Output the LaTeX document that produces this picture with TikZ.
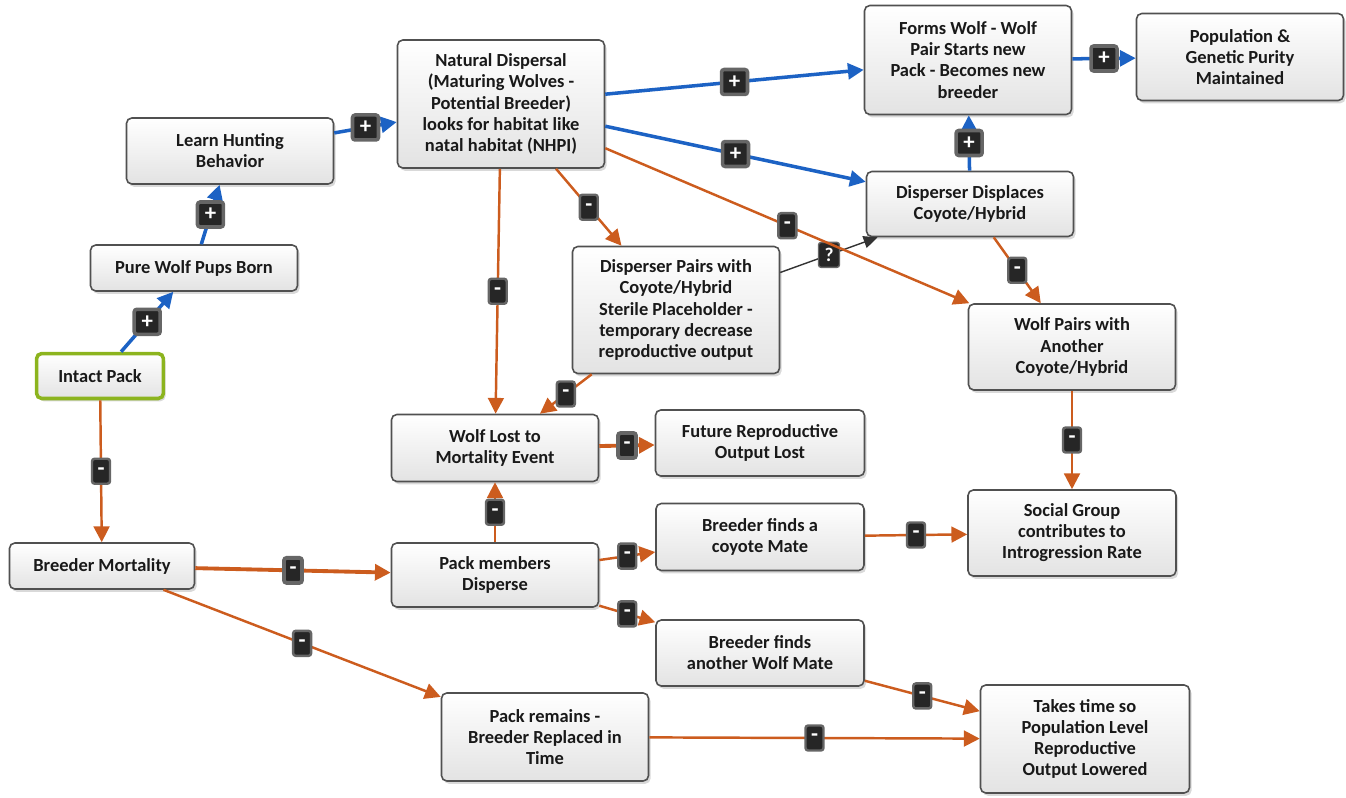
\documentclass[tikz,border=0pt]{standalone}
\usepackage{fontspec}
\setmainfont{Carlito}
\usetikzlibrary{arrows.meta}
\usetikzlibrary{shadows}

\definecolor{plusblue}{RGB}{28,98,196}
\definecolor{minusorange}{RGB}{204,92,30}
\definecolor{packgreen}{RGB}{140,180,30}
\definecolor{boxline}{RGB}{80,80,80}

\tikzset{
  box/.style={draw=boxline, line width=0.9pt, rounded corners=3pt,
    top color=white, bottom color=black!11,
    drop shadow={opacity=0.3, shadow xshift=1.2pt, shadow yshift=-1.6pt},
    align=center, font=\fontsize{10.5}{12}\selectfont\bfseries, text=black!90,
    minimum width=4.14cm, inner sep=2pt},
  startbox/.style={box, draw=packgreen, line width=2pt},
  plusedge/.style={plusblue, line width=2pt, -{Triangle[length=9pt,width=9pt]}},
  minusedge/.style={minusorange, line width=1.4pt, -{Triangle[length=9pt,width=9pt]}},
  askedge/.style={black!80, line width=0.8pt, -{Triangle[length=8pt,width=7pt]}},
  signbox/.style={fill=black!85, draw=black!60, rounded corners=1.5pt, text=white,
    font=\fontsize{13}{13}\selectfont\bfseries, inner sep=0pt, minimum height=0.5cm},
  plusmark/.style={signbox, minimum width=0.52cm},
  minusmark/.style={signbox, minimum width=0.36cm},
  askmark/.style={signbox, minimum width=0.42cm, font=\fontsize{11}{11}\selectfont\bfseries}
}

\begin{document}
\begin{tikzpicture}[x=0.02cm, y=-0.02cm]
        \useasboundingbox (0,0) rectangle (1346,798);
        %%%BOXES%%%
        \node[startbox, minimum width=2.54cm, minimum height=0.9cm] (intact) at (100,376) {Intact Pack};
        \node[box, minimum height=0.92cm] (pups) at (194,268) {Pure Wolf Pups Born};
        \node[box, minimum height=1.32cm] (hunt) at (230,151) {Learn Hunting\\Behavior};
        \node[box, minimum height=2.56cm] (disp) at (501,104) {Natural Dispersal\\(Maturing Wolves -\\Potential Breeder)\\looks for habitat like\\natal habitat (NHPI)};
        \node[box, minimum height=2.18cm] (forms) at (968,60) {Forms Wolf - Wolf\\Pair Starts new\\Pack - Becomes new\\breeder};
        \node[box, minimum height=1.74cm] (popul) at (1240,57) {Population \&\\Genetic Purity\\Maintained};
        \node[box, minimum height=1.3cm] (displace) at (970,204) {Disperser Displaces\\Coyote/Hybrid};
        \node[box, minimum height=2.54cm] (pairs) at (676,310) {Disperser Pairs with\\Coyote/Hybrid\\Sterile Placeholder -\\temporary decrease\\reproductive output};
        \node[box, minimum height=1.72cm] (wpair) at (1072,347) {Wolf Pairs with\\Another\\Coyote/Hybrid};
        %next
        \node[box, minimum height=1.34cm] (lost) at (495,448) {Wolf Lost to\\Mortality Event};
        \node[box, minimum width=4.18cm, minimum height=1.32cm] (future) at (760,443) {Future Reproductive\\Output Lost};
        \node[box, minimum width=4.16cm, minimum height=1.72cm] (social) at (1072,533) {Social Group\\contributes to\\Introgression Rate};
        \node[box, minimum width=3.7cm, minimum height=0.92cm] (bmort) at (102,566) {Breeder Mortality};
        \node[box, minimum height=1.28cm] (pmem) at (495,575) {Pack members\\Disperse};
        \node[box, minimum width=4.16cm, minimum height=1.34cm] (bcoy) at (760,537) {Breeder finds a\\coyote Mate};
        \node[box, minimum width=4.16cm, minimum height=1.32cm] (bwolf) at (760,653) {Breeder finds\\another Wolf Mate};
        \node[box, minimum height=1.76cm] (premain) at (545,737) {Pack remains -\\Breeder Replaced in\\Time};
        \node[box, minimum width=4.18cm, minimum height=2.16cm] (takes) at (1085,739) {Takes time so\\Population Level\\Reproductive\\Output Lowered};
        %%%LINKS%%%
        \draw[plusedge] (intact)--node[plusmark]{+}(pups);
        \draw[plusedge] (pups)--node[plusmark]{+}(hunt);
        \draw[plusedge] (hunt)--node[plusmark]{+}(disp);
        \draw[plusedge] (disp)--node[plusmark]{+}(forms);
        \draw[plusedge] (disp)--node[plusmark]{+}(displace);
        \draw[plusedge] (displace)--node[plusmark]{+}(forms);
        \draw[plusedge] (forms)--node[plusmark]{+}(popul);
        %next
        \draw[minusedge] (disp)--node[minusmark]{-}(pairs);
        \draw[minusedge] (disp)--node[minusmark]{-}(lost);
        \draw[askedge] (pairs)--node[askmark]{?}(displace);
        \draw[minusedge] (disp)--node[minusmark]{-}(wpair);
        \draw[minusedge] (pairs)--node[minusmark]{-}(lost);
        \draw[minusedge] (displace)--node[minusmark]{-}(wpair);
        \draw[minusedge] (wpair)--node[minusmark]{-}(social);
        %lower part
        \draw[minusedge] (intact)--node[minusmark]{-}(bmort);
        \draw[minusedge, line width=2.2pt] (bmort)--node[minusmark]{-}(pmem);
        \draw[minusedge] (bmort)--node[minusmark]{-}(premain);
        \draw[minusedge] (pmem)--node[minusmark]{-}(lost);
        \draw[minusedge, line width=2.2pt] (lost)--node[minusmark]{-}(future);
        \draw[minusedge] (pmem)--node[minusmark]{-}(bcoy);
        \draw[minusedge] (pmem)--node[minusmark]{-}(bwolf);
        \draw[minusedge] (bcoy)--node[minusmark]{-}(social);
        \draw[minusedge] (bwolf)--node[minusmark]{-}(takes);
        \draw[minusedge] (premain)--node[minusmark]{-}(takes);
    \end{tikzpicture}
\end{document}
